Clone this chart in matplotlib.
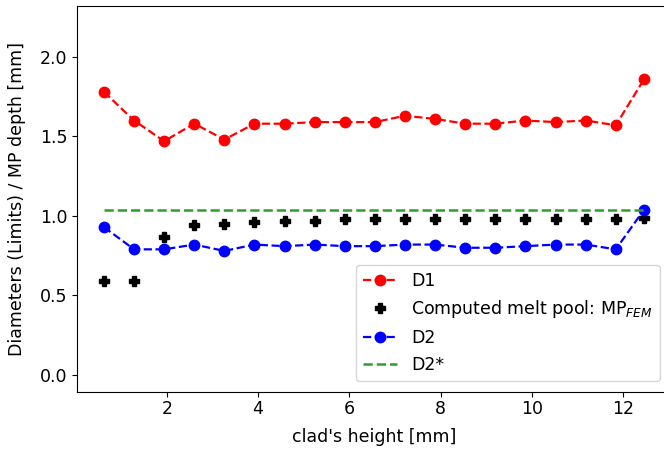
import matplotlib
matplotlib.use("Agg")
import matplotlib.pyplot as plt

heights = [0.62, 1.28, 1.94, 2.60, 3.26, 3.92, 4.58, 5.24, 5.90, 6.56, 7.22, 7.88,
           8.54, 9.20, 9.86, 10.52, 11.18, 11.84, 12.46]
d1 = [1.78, 1.60, 1.47, 1.58, 1.48, 1.58, 1.58, 1.59, 1.59, 1.59, 1.63, 1.61,
      1.58, 1.58, 1.60, 1.59, 1.60, 1.57, 1.86]
mp_fem = [0.59, 0.59, 0.87, 0.94, 0.95, 0.96, 0.97, 0.97, 0.98, 0.98, 0.98, 0.98,
          0.98, 0.98, 0.98, 0.98, 0.98, 0.98, 0.99]
d2 = [0.93, 0.79, 0.79, 0.82, 0.78, 0.82, 0.81, 0.82, 0.81, 0.81, 0.82, 0.82,
      0.80, 0.80, 0.81, 0.82, 0.82, 0.79, 1.04]
d2_star = 1.04

plt.rcParams['font.size'] = 12.5

fig = plt.figure(figsize=(6.64, 4.51), dpi=100)
ax = fig.add_axes([77/664, 59/451, 594/664, 386/451])
ax.plot(heights, d1, 'o--', color='red', label='D1', markersize=7.5, linewidth=1.6)
ax.plot(heights, mp_fem, 'P', color='black', linestyle='none', markersize=7.5,
        label='Computed melt pool: MP$_{FEM}$')
ax.plot(heights, d2, 'o--', color='blue', label='D2', markersize=7.5, linewidth=1.6)
ax.plot([heights[0], heights[-1]], [d2_star, d2_star], '--', color='tab:green',
        label='D2*', linewidth=1.8)

ax.set_xlim(0.03, 13.05)
ax.set_ylim(-0.107, 2.32)
ax.set_xticks([2, 4, 6, 8, 10, 12])
ax.set_yticks([0.0, 0.5, 1.0, 1.5, 2.0])
ax.tick_params(axis='x', pad=2.5)
ax.set_xlabel("clad's height [mm]", labelpad=7)
ax.set_ylabel("Diameters (Limits) / MP depth [mm]", labelpad=10)
ax.legend(loc='lower right', borderaxespad=0.65)
fig.savefig('out.png', dpi=100)
